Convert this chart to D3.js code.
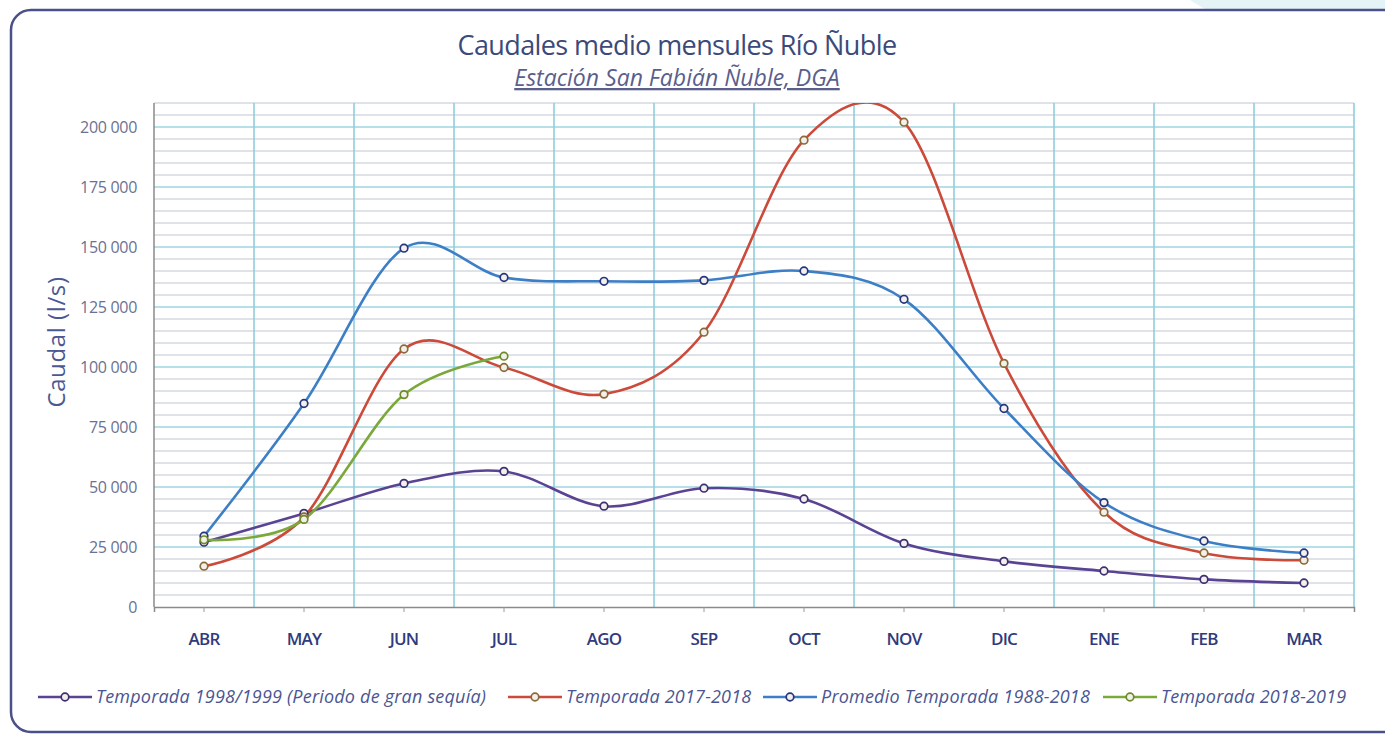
<!DOCTYPE html>
<html>
<head>
<meta charset="utf-8">
<script src="https://cdn.jsdelivr.net/npm/d3@7"></script>
<style>
  body { margin: 0; background: #fff; }
  svg { display: block; }
  text { font-family: "Open Sans", sans-serif; }
</style>
</head>
<body>
<div id="chart"></div>
<script>
// data
const months = ["ABR", "MAY", "JUN", "JUL", "AGO", "SEP", "OCT", "NOV", "DIC", "ENE", "FEB", "MAR"]
const seca9899 = [27000, 39000, 51500, 56500, 42000, 49500, 45000, 26500, 19000, 15000, 11500, 10000]
const temp1718 = [17000, 37500, 107500, 99800, 88700, 114500, 194500, 202000, 101500, 39500, 22500, 19500]
const promedio = [29500, 84800, 149500, 137300, 135700, 136100, 140000, 128200, 82700, 43500, 27500, 22500]
const temp1819 = [28000, 36500, 88500, 104500]
const seriesNames = [
  "Temporada 1998/1999 (Periodo de gran sequía)",
  "Temporada 2017-2018",
  "Promedio Temporada 1988-2018",
  "Temporada 2018-2019"
]
const yTicks = [0, 25000, 50000, 75000, 100000, 125000, 150000, 175000, 200000]

const series = [
  { name: seriesNames[0], values: seca9899, color: "#5b4393", marker: "#3e2f72" },
  { name: seriesNames[1], values: temp1718, color: "#cc4a3a", marker: "#8a6a3a" },
  { name: seriesNames[2], values: promedio, color: "#3d7fc6", marker: "#26357f" },
  { name: seriesNames[3], values: temp1819, color: "#7ba83a", marker: "#6b8a2a" },
]

const width = 1385
const height = 738
const plot = { left: 154, right: 1354, top: 103, bottom: 607 }

const svg = d3.select("#chart").append("svg")
    .attr("width", width)
    .attr("height", height)

// background decoration + frame
svg.append("path")
    .attr("d", "M1190,0 L1385,0 L1385,120 Z")
    .attr("fill", "#e4f3f6")
svg.append("rect")
    .attr("x", 11)
    .attr("y", 10)
    .attr("width", 1395)
    .attr("height", 722)
    .attr("rx", 20)
    .attr("fill", "#fff")
    .attr("stroke", "#4a5088")
    .attr("stroke-width", 2.5)

// scales
const xScale = d3.scaleBand()
    .domain(months)
    .range([plot.left, plot.right])

const yScale = d3.scaleLinear()
    .domain([0, 210000])
    .range([plot.bottom, plot.top])

const xCenter = m => xScale(m) + xScale.bandwidth() / 2

// minor grid
const minorTicks = d3.range(5000, 210001, 5000).filter(v => v % 25000 != 0)
svg.append("g")
  .selectAll("line")
  .data(minorTicks)
  .join("line")
    .attr("x1", plot.left)
    .attr("x2", plot.right)
    .attr("y1", d => yScale(d))
    .attr("y2", d => yScale(d))
    .attr("stroke", "#d4d9de")
    .attr("stroke-width", 1.3)

// major grid
svg.append("g")
  .selectAll("line")
  .data(yTicks.filter(d => d > 0))
  .join("line")
    .attr("x1", plot.left)
    .attr("x2", plot.right)
    .attr("y1", d => yScale(d))
    .attr("y2", d => yScale(d))
    .attr("stroke", "#9fd4df")
    .attr("stroke-width", 1.6)

// vertical grid at category boundaries
svg.append("g")
  .selectAll("line")
  .data(months.slice(1).concat(["end"]))
  .join("line")
    .attr("x1", d => d == "end" ? plot.right : xScale(d))
    .attr("x2", d => d == "end" ? plot.right : xScale(d))
    .attr("y1", plot.top)
    .attr("y2", plot.bottom)
    .attr("stroke", "#8fcfdc")
    .attr("stroke-width", 1.6)

// axes lines
svg.append("line")
    .attr("x1", plot.left).attr("x2", plot.left)
    .attr("y1", plot.top).attr("y2", plot.bottom)
    .attr("stroke", "#8a8a8a").attr("stroke-width", 1.5)

const xAxis = svg.append("g")
    .attr("transform", `translate(0, ${plot.bottom})`)
    .call(d3.axisBottom(xScale).tickSize(5).tickPadding(21))
xAxis.select(".domain").attr("stroke", "#8a8a8a").attr("stroke-width", 1.5)
xAxis.selectAll(".tick line").attr("stroke", "#9a9a9a")
xAxis.selectAll(".tick text")
    .attr("font-family", "Open Sans")
    .attr("font-size", 17)
    .attr("font-weight", 600)
    .attr("letter-spacing", -0.8)
    .attr("fill", "#2f3b7c")

const locale = d3.formatLocale({ decimal: ",", thousands: " ", grouping: [3], currency: ["", ""] })
const yAxis = svg.append("g")
    .attr("transform", `translate(${plot.left}, 0)`)
    .call(d3.axisLeft(yScale).tickValues(yTicks).tickFormat(locale.format(",")).tickSize(0).tickPadding(17))
yAxis.select(".domain").remove()
yAxis.selectAll(".tick text")
    .attr("font-family", "Open Sans")
    .attr("font-size", 16)
    .attr("letter-spacing", -0.3)
    .attr("fill", "#6b7192")

svg.append("text")
    .attr("transform", `translate(65, 342) rotate(-90)`)
    .attr("text-anchor", "middle")
    .attr("font-size", 24)
    .attr("letter-spacing", 0.6)
    .attr("fill", "#4b5891")
    .text("Caudal (l/s)")

// titles
svg.append("text")
    .attr("x", 677)
    .attr("y", 55)
    .attr("text-anchor", "middle")
    .attr("font-size", 27)
    .attr("letter-spacing", -0.6)
    .attr("fill", "#3b4a78")
    .text("Caudales medio mensules Río Ñuble")
svg.append("text")
    .attr("x", 677)
    .attr("y", 86)
    .attr("text-anchor", "middle")
    .attr("font-size", 23)
    .attr("font-style", "italic")
    .attr("text-decoration", "underline")
    .attr("fill", "#5a5e8c")
    .text("Estación San Fabián Ñuble, DGA")

// lines
svg.append("clipPath")
    .attr("id", "plotClip")
  .append("rect")
    .attr("x", plot.left)
    .attr("y", plot.top)
    .attr("width", plot.right - plot.left)
    .attr("height", plot.bottom - plot.top)

const lineGenerator = d3.line()
    .x((d, i) => xCenter(months[i]))
    .y(d => yScale(d))
    .curve(d3.curveCatmullRom.alpha(0))

const lines = svg.append("g").attr("clip-path", "url(#plotClip)")
series.forEach(s => {
  lines.append("path")
      .attr("d", lineGenerator(s.values))
      .attr("fill", "none")
      .attr("stroke", s.color)
      .attr("stroke-width", 2.6)
})
series.forEach(s => {
  lines.append("g")
    .selectAll("circle")
    .data(s.values)
    .join("circle")
      .attr("cx", (d, i) => xCenter(months[i]))
      .attr("cy", d => yScale(d))
      .attr("r", 3.8)
      .attr("fill", "#f3f0ea")
      .attr("stroke", s.marker)
      .attr("stroke-width", 1.7)
})

// legend
const legendX = [38, 508, 763, 1103]
const legend = svg.append("g")
  .selectAll("g")
  .data(series)
  .join("g")
    .attr("transform", (d, i) => `translate(${legendX[i]}, 697)`)
legend.append("line")
    .attr("x1", 0).attr("x2", 54)
    .attr("stroke", d => d.color)
    .attr("stroke-width", 2.6)
legend.append("circle")
    .attr("cx", 27)
    .attr("r", 3.8)
    .attr("fill", "#f3f0ea")
    .attr("stroke", d => d.marker)
    .attr("stroke-width", 1.7)
legend.append("text")
    .attr("x", 58)
    .attr("y", 6)
    .attr("font-size", 18)
    .attr("font-style", "italic")
    .attr("letter-spacing", 0.2)
    .attr("fill", "#4a5592")
    .text(d => d.name)
</script>
</body>
</html>
